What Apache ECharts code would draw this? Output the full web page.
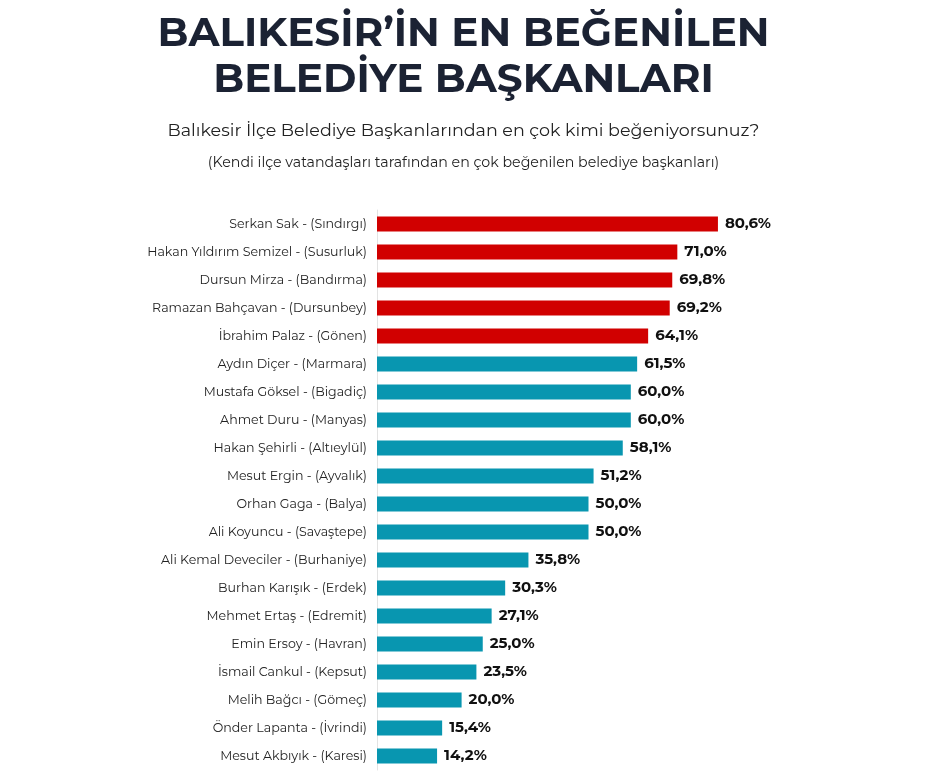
<!DOCTYPE html>
<html>
<head>
<meta charset="utf-8">
<script src="https://cdn.jsdelivr.net/npm/echarts@6/dist/echarts.min.js"></script>
<style>
  html, body { margin: 0; padding: 0; background: #fff; }
  #chart { width: 927px; height: 779px; }
</style>
</head>
<body>
<div id="chart"></div>
<script>
;(function () {

    'use strict';

    var names = [
        'Serkan Sak - (Sındırgı)',
        'Hakan Yıldırım Semizel - (Susurluk)',
        'Dursun Mirza - (Bandırma)',
        'Ramazan Bahçavan - (Dursunbey)',
        'İbrahim Palaz - (Gönen)',
        'Aydın Diçer - (Marmara)',
        'Mustafa Göksel - (Bigadiç)',
        'Ahmet Duru - (Manyas)',
        'Hakan Şehirli - (Altıeylül)',
        'Mesut Ergin - (Ayvalık)',
        'Orhan Gaga - (Balya)',
        'Ali Koyuncu - (Savaştepe)',
        'Ali Kemal Deveciler - (Burhaniye)',
        'Burhan Karışık - (Erdek)',
        'Mehmet Ertaş - (Edremit)',
        'Emin Ersoy - (Havran)',
        'İsmail Cankul - (Kepsut)',
        'Melih Bağcı - (Gömeç)',
        'Önder Lapanta - (İvrindi)',
        'Mesut Akbıyık - (Karesi)'
    ];

    var scores = [80.6, 71.0, 69.8, 69.2, 64.1, 61.5, 60.0, 60.0, 58.1, 51.2,
                  50.0, 50.0, 35.8, 30.3, 27.1, 25.0, 23.5, 20.0, 15.4, 14.2];

    // top five are highlighted in red
    var topCount = 5;

    var RED = '#d10000';
    var TEAL = '#0896b0';
    var FONT = 'Montserrat, "DejaVu Sans", sans-serif';

    var myChart = echarts.init(document.getElementById('chart'));

    var option = {
        backgroundColor: '#fff',
        animation: false,
        title: [
            {
                text: 'BALIKESİR’İN EN BEĞENİLEN\nBELEDİYE BAŞKANLARI',
                left: 'center',
                top: 6,
                textStyle: {
                    fontFamily: FONT,
                    fontSize: 40.5,
                    fontWeight: 'bold',
                    color: '#1b2233',
                    lineHeight: 46
                }
            },
            {
                text: 'Balıkesir İlçe Belediye Başkanlarından en çok kimi beğeniyorsunuz?',
                left: 'center',
                top: 117,
                textStyle: {
                    fontFamily: FONT,
                    fontSize: 17.5,
                    fontWeight: 'normal',
                    color: '#222'
                }
            },
            {
                text: '(Kendi ilçe vatandaşları tarafından en çok beğenilen belediye başkanları)',
                left: 'center',
                top: 151,
                textStyle: {
                    fontFamily: FONT,
                    fontSize: 14.2,
                    fontWeight: 'normal',
                    color: '#222'
                }
            }
        ],
        grid: {
            left: 377,
            right: 127,
            top: 210,
            bottom: 9
        },
        xAxis: {
            type: 'value',
            min: 0,
            max: 100,
            show: false
        },
        yAxis: {
            type: 'category',
            inverse: true,
            data: names,
            axisLine: { show: true, lineStyle: { color: '#e3e3e3', width: 1 } },
            axisTick: { show: false },
            axisLabel: {
                margin: 10,
                fontFamily: FONT,
                fontSize: 12.6,
                color: '#222'
            }
        },
        series: [
            {
                type: 'bar',
                barWidth: 15,
                data: scores.map(function (v, i) {
                    return {
                        value: v,
                        itemStyle: { color: i < topCount ? RED : TEAL }
                    };
                }),
                label: {
                    show: true,
                    position: 'right',
                    distance: 7,
                    fontFamily: FONT,
                    fontSize: 15,
                    fontWeight: 'bold',
                    color: '#111',
                    formatter: function (p) {
                        return p.value.toFixed(1).replace('.', ',') + '%';
                    }
                }
            }
        ]
    };

    myChart.setOption(option);

}());
</script>
</body>
</html>
